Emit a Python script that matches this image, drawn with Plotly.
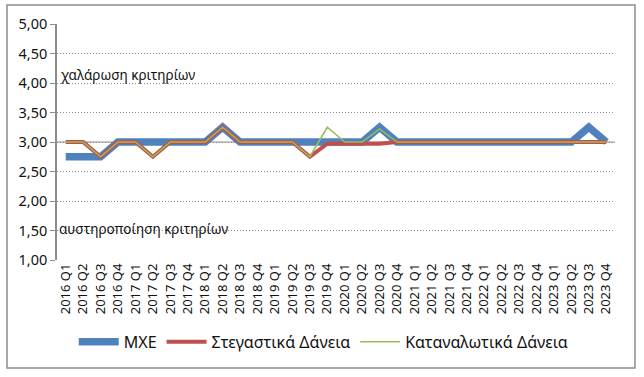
import plotly.graph_objects as go

quarters = [f"{y} Q{q}" for y in range(2016, 2024) for q in range(1, 5)]

mxe = [2.75, 2.75, 2.75, 3.00, 3.00, 3.00, 3.00, 3.00,
       3.00, 3.25, 3.00, 3.00, 3.00, 3.00, 3.00, 3.00,
       3.00, 3.00, 3.25, 3.00, 3.00, 3.00, 3.00, 3.00,
       3.00, 3.00, 3.00, 3.00, 3.00, 3.00, 3.25, 3.00]
housing = [3.00, 3.00, 2.75, 3.00, 3.00, 2.75, 3.00, 3.00,
           3.00, 3.25, 3.00, 3.00, 3.00, 3.00, 2.75, 2.97,
           2.97, 2.97, 2.97, 3.00, 3.00, 3.00, 3.00, 3.00,
           3.00, 3.00, 3.00, 3.00, 3.00, 3.00, 3.00, 3.00]
consumer = [3.00, 3.00, 2.75, 3.00, 3.00, 2.75, 3.00, 3.00,
            3.00, 3.25, 3.00, 3.00, 3.00, 3.00, 2.75, 3.25,
            3.00, 3.00, 3.22, 3.00, 3.00, 3.00, 3.00, 3.00,
            3.00, 3.00, 3.00, 3.00, 3.00, 3.00, 3.00, 3.00]

series_names = ["ΜΧΕ", "Στεγαστικά Δάνεια", "Καταναλωτικά Δάνεια"]
y_ticks = [1.0, 1.5, 2.0, 2.5, 3.0, 3.5, 4.0, 4.5, 5.0]

FONT = "Noto Sans"
TXT = "#111111"
fig = go.Figure()
fig.add_trace(go.Scatter(x=quarters, y=mxe, name=series_names[0], mode="lines",
                         line=dict(color="#4F81BD", width=7.5)))
fig.add_trace(go.Scatter(x=quarters, y=housing, name=series_names[1], mode="lines",
                         line=dict(color="#C0504D", width=4)))
fig.add_trace(go.Scatter(x=quarters, y=consumer, name=series_names[2], mode="lines",
                         line=dict(color="#9BBB59", width=1.5)))

# horizontal category axis line crossing at 3.00
fig.add_shape(type="line", xref="paper", yref="y", x0=0, x1=1, y0=3, y1=3,
              line=dict(color="#8C8C8C", width=1), layer="below")
# chart outer border
fig.add_shape(type="rect", xref="paper", yref="paper",
              x0=-0.0896, x1=1.0358, y0=-0.4576, y1=1.0805,
              line=dict(color="#8C8C8C", width=1.5), layer="above")

fig.add_annotation(text="χαλάρωση κριτηρίων", xref="paper", yref="y",
                   x=0.003, y=4.14, xanchor="left", yanchor="middle",
                   showarrow=False, font=dict(family=FONT, size=13.5, color=TXT))
fig.add_annotation(text="αυστηροποίηση κριτηρίων", xref="paper", yref="y",
                   x=0.0, y=1.52, xanchor="left", yanchor="middle",
                   showarrow=False, font=dict(family=FONT, size=13.5, color=TXT))

fig.update_layout(
    width=644, height=377,
    margin=dict(l=57, r=29, t=24, b=117),
    paper_bgcolor="white", plot_bgcolor="white",
    separators=",.",
    font=dict(family=FONT, size=12, color=TXT),
    showlegend=True,
    legend=dict(orientation="h", x=0.03, xanchor="left", y=-0.347, yanchor="middle",
                font=dict(family=FONT, size=16, color=TXT),
                itemwidth=40, tracegroupgap=0, bgcolor="rgba(0,0,0,0)"),
    xaxis=dict(type="category", range=[-0.5, 31.5], tickangle=-90,
               tickfont=dict(family=FONT, size=13, color=TXT),
               showgrid=False, showline=False, zeroline=False, ticks="", ticklen=0,
               automargin=False),
    yaxis=dict(range=[1, 5], tickvals=y_ticks, tickformat=".2f",
               tickfont=dict(family=FONT, size=14.5, color=TXT),
               showgrid=True, gridcolor="#8a8a8a", griddash="1px,2px", gridwidth=1,
               showline=True, linecolor="#8C8C8C", linewidth=1.5,
               ticks="outside", ticklen=5, tickcolor="#8C8C8C",
               zeroline=False, automargin=False),
)

fig.write_html("out.html", config={"displayModeBar": False},
               post_script="document.body.style.margin='0';document.body.style.overflow='hidden';")
